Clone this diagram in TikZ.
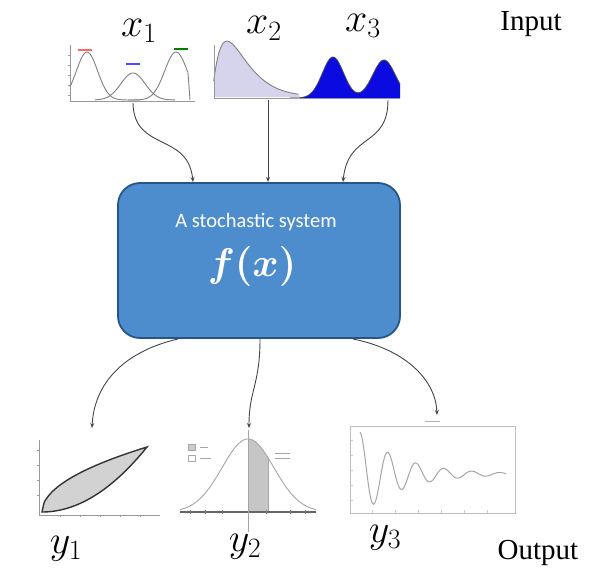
\RequirePackage{fix-cm}
\documentclass[tikz,border=0pt]{standalone}
\usepackage{amsmath}
\usepackage{fontspec}
\usetikzlibrary{arrows.meta}
\newfontfamily\carlito{Carlito}
\newfontfamily\serifb{Liberation Serif}
\definecolor{boxfill}{RGB}{77,141,206}
\definecolor{boxline}{RGB}{40,85,135}
\definecolor{arrcol}{RGB}{70,70,70}
\definecolor{lav}{RGB}{214,212,236}
\definecolor{deepblue}{RGB}{10,10,225}
\tikzset{
  arr/.style={draw=arrcol, line width=0.9pt, -{Stealth[length=5pt,width=4pt]}},
  sysbox/.style={draw=boxline, line width=1.8pt, fill=boxfill, rounded corners=22pt, minimum width=282pt, minimum height=155pt},
  varlab/.style={anchor=base, inner sep=0pt, font=\fontsize{40}{44}\selectfont},
  wordlab/.style={anchor=base, inner sep=0pt, font=\serifb\fontsize{29}{32}\selectfont},
  curve/.style={draw=gray, line width=0.9pt},
  axis/.style={draw=gray!80, line width=0.6pt},
  plotarea/.style={inner sep=0pt, minimum width=#1}
}
\begin{document}
\begin{tikzpicture}[x=1pt,y=-1pt]
\useasboundingbox (0,0) rectangle (608,570);
\fill[white] (0,0) rectangle (608,570);

% labels
\node[varlab] (lx1) at (139,36) {$x_1$};
\node[varlab] (lx2) at (264,34) {$x_2$};
\node[varlab] (lx3) at (363,31) {$x_3$};
\node[wordlab] (lin) at (531,30) {Input};
\node[varlab] (ly1) at (66,553) {$y_1$};
\node[varlab] (ly2) at (245,551) {$y_2$};
\node[varlab] (ly3) at (385,542) {$y_3$};
\node[wordlab] (lout) at (538,559) {Output};

% ---- x1 plot
\draw[axis] (70,45) -- (70,101) -- (195,101);
\foreach \yy in {55,65,75,85,95} \draw[axis] (68,\yy) -- (70,\yy);
\draw[curve] plot[domain=70:140,samples=50,smooth] (\x,{100-48*exp(-((\x-87)/15)^2)});
\draw[curve] plot[domain=95:175,samples=50,smooth] (\x,{100-27*exp(-((\x-133)/17)^2)});
\draw[curve] plot[domain=128:188,samples=50,smooth] (\x,{100-48*exp(-((\x-176)/16)^2)});
\draw[curve] (188,{100-48*exp(-((188-176)/16)^2)}) -- (190,100);
\draw[red!60, line width=1.2pt] (78,50) -- (92,50);
\draw[blue!70, line width=1.2pt] (126,64) -- (140,64);
\draw[green!50!black, line width=1.2pt] (174,49) -- (188,49);
\node[plotarea=120pt] (px1) at (133,100) {};
\coordinate (s1) at (133,103);

% ---- x2 plot
\fill[lav] (214,97) -- plot[domain=0.2:9.6,samples=60,smooth] ({212+9*\x},{97-50*\x*exp(0.6*(1-\x))}) -- (300,97) -- cycle;
\draw[curve] plot[domain=0.2:9.6,samples=60,smooth] ({212+9*\x},{97-50*\x*exp(0.6*(1-\x))});
\draw[axis] (214,45) -- (214,98) -- (300,98);
\node[plotarea=90pt] (px2) at (258,98) {};
\coordinate (s2) at (268,100);

% ---- x3 plot
\draw[gray!70, line width=1.2pt] (290,98) -- (400,98);
\fill[deepblue] plot[domain=300:400,samples=80,smooth] (\x,{98-41*exp(-((\x-333)/15)^2)-38*exp(-((\x-384)/16)^2)}) -- (400,98) -- (300,98) -- cycle;
\draw[black!70, line width=0.8pt] plot[domain=300:400,samples=80,smooth] (\x,{98-41*exp(-((\x-333)/15)^2)-38*exp(-((\x-384)/16)^2)});
\node[plotarea=110pt] (px3) at (345,98) {};
\coordinate (s3) at (388,100);

% ---- system box
\node[sysbox] (sys) at (259,260.5) {};
\node[text=white, font=\carlito\fontsize{20.5}{24}\selectfont] (sysname) at (256,222) {A stochastic system};
\node[text=white, font=\fontsize{40}{44}\selectfont] (fx) at (252,266) {$\boldsymbol{f(x)}$};
\coordinate (i1) at (193,182);
\coordinate (i2) at (268,182);
\coordinate (i3) at (343,182);
\coordinate (o1) at (178,339);
\coordinate (o2) at (260,339);
\coordinate (o3) at (353,339);

% input arrows
\draw[arr] (s1) .. controls (134,152) and (188,132) .. (i1);
\draw[arr] (s2) -- (i2);
\draw[arr] (s3) .. controls (388,148) and (348,132) .. (i3);

% ---- y1 plot
\coordinate (e1) at (92,428);
\draw[axis] (39,440) -- (39,515) -- (160,515);
\foreach \yy in {450,465,480,495} \draw[axis] (37,\yy) -- (39,\yy);
\foreach \xx in {60,80,100,120,140} \draw[axis] (\xx,515) -- (\xx,517);
\filldraw[fill=gray!35, draw=black!80, line width=1.4pt]
  plot[domain=0:1,samples=50,smooth] ({42+105*\x},{512-65*sqrt(\x)})
  -- plot[domain=1:0,samples=50,smooth] ({42+105*\x},{512-65*\x*\x}) -- cycle;
\node[plotarea=120pt] (py1) at (95,478) {};

% ---- y2 plot
\coordinate (e2) at (249,428);
\fill[gray!45] (248,512) -- plot[domain=248:268,samples=20,smooth] (\x,{512-73*exp(-((\x-248)/26)^2/2)}) -- (268,512) -- cycle;
\draw[curve, gray!70] plot[domain=180:316,samples=80,smooth] (\x,{512-73*exp(-((\x-248)/26)^2/2)});
\draw[gray!70, line width=0.8pt] (268,512) -- (268,{512-73*exp(-((268-248)/26)^2/2)});
\draw[black!60, line width=1.2pt] (180,512) -- (316,512);
\foreach \xx in {190,205,222,266,290,305} \draw[gray] (\xx,510) -- (\xx,514);
\draw[gray!70, line width=0.7pt] (248,430) -- (248,532);
\draw[gray!70, fill=gray!40] (188,444) rectangle (195,450);
\draw[gray!70] (188,455) rectangle (195,461);
\draw[gray!70] (200,447) -- (208,447);
\draw[gray!70] (200,458) -- (211,458);
\draw[gray!70] (275,453) -- (290,453) (275,458) -- (290,458);
\node[plotarea=140pt] (py2) at (248,475) {};

% ---- y3 plot
\coordinate (e3) at (437,415);
\draw[gray!50, line width=0.6pt] (350,426) rectangle (515,513);
\foreach \xx in {372,395,418,441,464,487} \draw[gray!40] (\xx,513) -- (\xx,510);
\foreach \yy in {440,455,470,485,500} \draw[gray!40] (350,\yy) -- (353,\yy);
\draw[gray!60, line width=0.5pt] (425,421) -- (440,421);
\draw[curve, gray!70, line width=1pt] plot[domain=0:146,samples=150,smooth] ({360+\x},{474-42*exp(-\x/42)*cos(12.857*\x)});
\node[plotarea=165pt] (py3) at (432,470) {};

% output arrows
\draw[arr] (o1) .. controls (122,352) and (94,385) .. (e1);
\draw[arr] (o2) .. controls (260,385) and (249,390) .. (e2);
\draw[arr] (o3) .. controls (408,350) and (436,382) .. (e3);
\end{tikzpicture}
\end{document}
